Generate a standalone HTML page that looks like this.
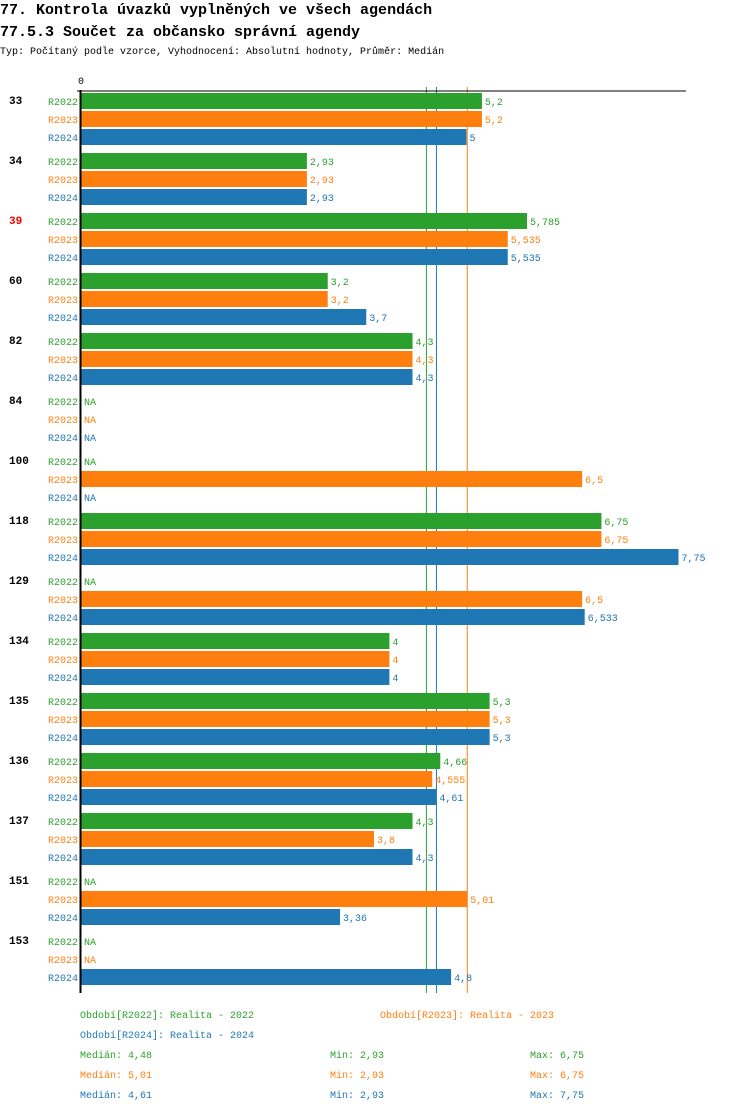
<!DOCTYPE html>
<html><head><meta charset="utf-8"><style>
body{margin:0;background:#fff;width:750px;height:1112px;overflow:hidden;font-family:"Liberation Mono",monospace}
text{font-family:"Liberation Mono",monospace}
</style></head><body>
<svg id="c" width="750" height="1112">
<text x="0" y="14" font-size="15" font-weight="bold" fill="#000">77. Kontrola úvazků vyplněných ve všech agendách</text>
<text x="0" y="36" font-size="15" font-weight="bold" fill="#000">77.5.3 Součet za občansko správní agendy</text>
<text x="0" y="54" font-size="10" fill="#000">Typ: Počítaný podle vzorce, Vyhodnocení: Absolutní hodnoty, Průměr: Medián</text>
<g id="g"></g>
</svg>
<script>
const groups=["33","34","39","60","82","84","100","118","129","134","135","136","137","151","153"];
const v2022=[5.2,2.93,5.785,3.2,4.3,null,null,6.75,null,4,5.3,4.66,4.3,null,null];
const v2023=[5.2,2.93,5.535,3.2,4.3,null,6.5,6.75,6.5,4,5.3,4.555,3.8,5.01,null];
const v2024=[5,2.93,5.535,3.7,4.3,null,null,7.75,6.533,4,5.3,4.61,4.3,3.36,4.8];
const medians=[4.48,5.01,4.61];
const mins=[2.93,2.93,2.93];
const maxs=[6.75,6.75,7.75];
const seriesNames=["R2022","R2023","R2024"];
const colors=["#2ca02c","#ff7f0e","#1f77b4"];
const NS="http://www.w3.org/2000/svg";
const g=document.getElementById('g');
const x=v=>81+v*77.1;
const y0=92;
function mk(t,a,txt){const e=document.createElementNS(NS,t);for(const k in a)e.setAttribute(k,a[k]);if(txt!=null)e.textContent=txt;g.appendChild(e);return e;}
const fmt=v=>String(v).replace('.',',');
// median lines
medians.forEach((m,i)=>{const l=mk('line',{x1:x(m),x2:x(m),y1:y0-5,y2:993,stroke:colors[i],'stroke-width':1});

});
const series=[v2022,v2023,v2024];
groups.forEach((gr,gi)=>{
  const gy=y0+gi*60;
  const t=mk('text',{x:9,y:gy+12,'font-size':11,'font-weight':'bold',fill:gr==="39"?"#e00":"#000"},gr);
  
  
  series.forEach((s,si)=>{
    const by=gy+1+si*18;
    const lb=mk('text',{x:48,y:by+12,'font-size':10,fill:colors[si]},seriesNames[si]);
    
    
    const v=s[gi];
    if(v==null){const n=mk('text',{x:84,y:by+12,'font-size':10,fill:colors[si]},'NA');
      
      return;}
    const r=mk('rect',{x:81,y:by,width:x(v)-81,height:16,fill:colors[si]});
    
    
    const vl=mk('text',{x:x(v)+3,y:by+12,'font-size':10,fill:colors[si]},fmt(v));
    
    
  });
});
const ax=mk('line',{x1:80.5,x2:80.5,y1:y0-2,y2:993,stroke:'#000','stroke-width':2});


const ah=mk('line',{x1:77,x2:686,y1:y0-1,y2:y0-1,stroke:'#000','stroke-width':1});


const z=mk('text',{x:78,y:84,'font-size':10,fill:'#000'},'0');


const legTxt=["Období[R2022]: Realita - 2022","Období[R2023]: Realita - 2023","Období[R2024]: Realita - 2024"];
const legPos=[[80,1018],[380,1018],[80,1038]];
legTxt.forEach((t,i)=>{const e=mk('text',{x:legPos[i][0],y:legPos[i][1],'font-size':10,fill:colors[i]},t);
  
  });
for(let i=0;i<3;i++){
  const yy=1058+i*20;
  const a=mk('text',{x:80,y:yy,'font-size':10,fill:colors[i]},'Medián: '+fmt(medians[i]));
  
  
  const b=mk('text',{x:330,y:yy,'font-size':10,fill:colors[i]},'Min: '+fmt(mins[i]));
  
  
  const c=mk('text',{x:530,y:yy,'font-size':10,fill:colors[i]},'Max: '+fmt(maxs[i]));
  
  
}
</script>
</body></html>
